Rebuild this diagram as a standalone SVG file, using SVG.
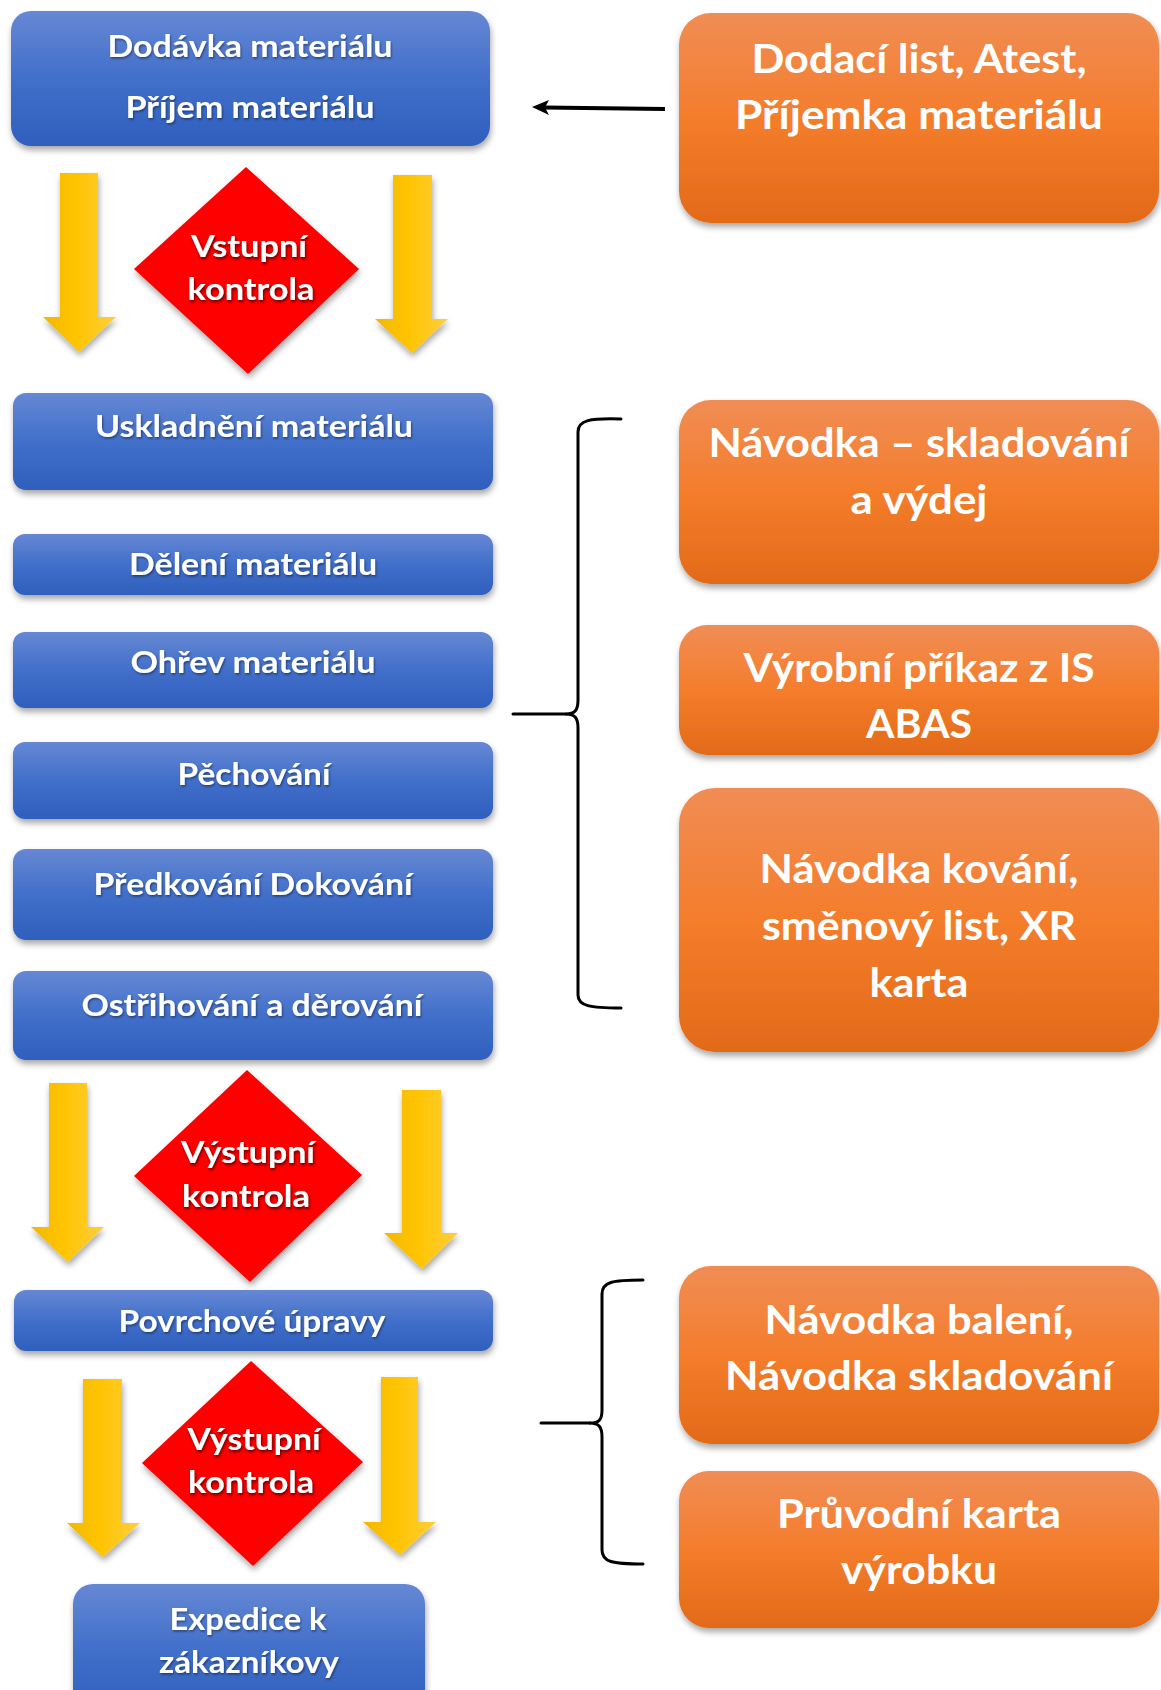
<svg xmlns="http://www.w3.org/2000/svg" width="1161" height="1690" viewBox="0 0 1161 1690">
  <defs>
    <linearGradient id="gBlue" x1="0" y1="0" x2="0" y2="1">
      <stop offset="0" stop-color="#6688D4"/>
      <stop offset="0.5" stop-color="#416FCA"/>
      <stop offset="1" stop-color="#2F5FBD"/>
    </linearGradient>
    <linearGradient id="gOrange" x1="0" y1="0" x2="0" y2="1">
      <stop offset="0" stop-color="#F08D55"/>
      <stop offset="0.5" stop-color="#F47D2C"/>
      <stop offset="1" stop-color="#E26A18"/>
    </linearGradient>
    <linearGradient id="gYellow" x1="0" y1="0" x2="1" y2="0">
      <stop offset="0" stop-color="#F2B800"/>
      <stop offset="0.45" stop-color="#FFC400"/>
      <stop offset="1" stop-color="#FFCE3C"/>
    </linearGradient>
    <filter id="boxShadow" x="-10%" y="-20%" width="120%" height="150%">
      <feDropShadow dx="1" dy="4" stdDeviation="3" flood-color="#000" flood-opacity="0.35"/>
    </filter>
    <filter id="txtShadow" x="-10%" y="-30%" width="120%" height="160%">
      <feDropShadow dx="1" dy="1.5" stdDeviation="1" flood-color="#000" flood-opacity="0.45"/>
    </filter>
    <filter id="redTxtShadow" x="-10%" y="-30%" width="120%" height="160%">
      <feDropShadow dx="1" dy="2" stdDeviation="1.6" flood-color="#400" flood-opacity="0.85"/>
    </filter>
  </defs>
  <style>
    .blue { fill: url(#gBlue); filter: url(#boxShadow); }
    .orange { fill: url(#gOrange); filter: url(#boxShadow); }
    .diamond { fill: #FF0000; filter: url(#boxShadow); }
    .yarrow { fill: url(#gYellow); filter: url(#boxShadow); }
    .bt { font-family: Lato, "Open Sans", "Liberation Sans", sans-serif; font-weight: bold; font-size: 30px; fill: #fff; text-anchor: middle; filter: url(#txtShadow); }
    .dt { font-family: Lato, "Open Sans", "Liberation Sans", sans-serif; font-weight: bold; font-size: 31px; fill: #fff; text-anchor: middle; filter: url(#redTxtShadow); }
    .ot { font-family: Lato, "Open Sans", "Liberation Sans", sans-serif; font-weight: bold; font-size: 40px; fill: #fff; text-anchor: middle; }
    .brace { fill: none; stroke: #000; stroke-width: 3; stroke-linecap: round; stroke-linejoin: round; }
  </style>

  <rect width="1161" height="1690" fill="#fff"/>

  <!-- connectors: block arrows, braces, pointer arrow -->
  <g id="connectors">
    <path class="yarrow" d="M60,173 L98,173 L98,317 L116,317 L79,352 L43,317 L60,317 Z"/>
    <path class="yarrow" d="M393,175 L432,175 L432,319 L448,319 L412,353 L375,319 L393,319 Z"/>
    <path class="yarrow" d="M49,1083 L87,1083 L87,1227 L104,1227 L68,1262 L31,1227 L49,1227 Z"/>
    <path class="yarrow" d="M402,1090 L441,1090 L441,1233 L458,1233 L422,1269 L384,1233 L402,1233 Z"/>
    <path class="yarrow" d="M83,1379 L122,1379 L122,1523 L140,1523 L103,1557 L67,1523 L83,1523 Z"/>
    <path class="yarrow" d="M381,1377 L418,1377 L418,1522 L436,1522 L400,1555 L363,1522 L381,1522 Z"/>

    <g id="pointer-arrow">
      <line x1="665" y1="109" x2="544" y2="107.5" stroke="#000" stroke-width="4"/>
      <path d="M532,107 L549,100 L545,107.5 L549,115 Z" fill="#000"/>
    </g>

    <path class="brace" d="M621,419 C590,418 578,420 578,432 L578,700 C578,710 575,714 566,714 C575,714 578,718 578,728 L578,995 C578,1006 590,1008 621,1008"/>
    <line class="brace" x1="513" y1="714" x2="566" y2="714"/>

    <path class="brace" d="M643,1280 C612,1280 602,1282 602,1294 L602,1410 C602,1420 599,1423 590,1423 C599,1423 602,1427 602,1437 L602,1550 C602,1562 612,1564 643,1564"/>
    <line class="brace" x1="541" y1="1423" x2="590" y2="1423"/>
  </g>

  <!-- process steps -->
  <g id="step-dodavka">
    <rect class="blue" x="11" y="11" width="479" height="135" rx="20"/>
    <text class="bt" x="250" y="57" textLength="285" lengthAdjust="spacingAndGlyphs">Dodávka materiálu</text>
    <text class="bt" x="250" y="118" textLength="249" lengthAdjust="spacingAndGlyphs">Příjem materiálu</text>
  </g>

  <g id="check-vstupni">
    <polygon class="diamond" points="246,167 359,269 248,374 134,269"/>
    <text class="dt" x="249" y="257" textLength="116" lengthAdjust="spacingAndGlyphs">Vstupní</text>
    <text class="dt" x="251" y="300" textLength="127" lengthAdjust="spacingAndGlyphs">kontrola</text>
  </g>

  <g id="step-uskladneni">
    <rect class="blue" x="13" y="393" width="480" height="97" rx="13"/>
    <text class="bt" x="254" y="437" textLength="318" lengthAdjust="spacingAndGlyphs">Uskladnění materiálu</text>
  </g>

  <g id="step-deleni">
    <rect class="blue" x="13" y="534" width="480" height="61" rx="12"/>
    <text class="bt" x="253" y="575" textLength="248" lengthAdjust="spacingAndGlyphs">Dělení materiálu</text>
  </g>

  <g id="step-ohrev">
    <rect class="blue" x="13" y="632" width="480" height="76" rx="12"/>
    <text class="bt" x="253" y="673" textLength="245" lengthAdjust="spacingAndGlyphs">Ohřev materiálu</text>
  </g>

  <g id="step-pechovani">
    <rect class="blue" x="13" y="742" width="480" height="77" rx="12"/>
    <text class="bt" x="254" y="785" textLength="153" lengthAdjust="spacingAndGlyphs">Pěchování</text>
  </g>

  <g id="step-predkovani">
    <rect class="blue" x="13" y="849" width="480" height="91" rx="13"/>
    <text class="bt" x="253" y="895" textLength="319" lengthAdjust="spacingAndGlyphs">Předkování Dokování</text>
  </g>

  <g id="step-ostrihovani">
    <rect class="blue" x="13" y="971" width="480" height="89" rx="13"/>
    <text class="bt" x="252" y="1016" textLength="341" lengthAdjust="spacingAndGlyphs">Ostřihování a děrování</text>
  </g>

  <g id="check-vystupni-1">
    <polygon class="diamond" points="247,1070 362,1175 250,1282 134,1176"/>
    <text class="dt" x="248" y="1163" textLength="134" lengthAdjust="spacingAndGlyphs">Výstupní</text>
    <text class="dt" x="246" y="1207" textLength="128" lengthAdjust="spacingAndGlyphs">kontrola</text>
  </g>

  <g id="step-povrchove">
    <rect class="blue" x="14" y="1290" width="479" height="61" rx="12"/>
    <text class="bt" x="252" y="1332" textLength="267" lengthAdjust="spacingAndGlyphs">Povrchové úpravy</text>
  </g>

  <g id="check-vystupni-2">
    <polygon class="diamond" points="251,1361 363,1462 253,1566 142,1463"/>
    <text class="dt" x="254" y="1450" textLength="133" lengthAdjust="spacingAndGlyphs">Výstupní</text>
    <text class="dt" x="251" y="1493" textLength="126" lengthAdjust="spacingAndGlyphs">kontrola</text>
  </g>

  <g id="step-expedice">
    <rect class="blue" x="73" y="1584" width="352" height="130" rx="20"/>
    <text class="bt" x="248" y="1630" textLength="157" lengthAdjust="spacingAndGlyphs">Expedice k</text>
    <text class="bt" x="249" y="1673" textLength="180" lengthAdjust="spacingAndGlyphs">zákazníkovy</text>
  </g>

  <!-- documents -->
  <g id="doc-dodaci">
    <rect class="orange" x="679" y="13" width="480" height="210" rx="32"/>
    <text class="ot" x="919" y="73" textLength="335" lengthAdjust="spacingAndGlyphs">Dodací list, Atest,</text>
    <text class="ot" x="919" y="129" textLength="368" lengthAdjust="spacingAndGlyphs">Příjemka materiálu</text>
  </g>

  <g id="doc-navodka-skladovani">
    <rect class="orange" x="679" y="400" width="480" height="184" rx="32"/>
    <text class="ot" x="919" y="457" textLength="421" lengthAdjust="spacingAndGlyphs">Návodka – skladování</text>
    <text class="ot" x="919" y="514" textLength="137" lengthAdjust="spacingAndGlyphs">a výdej</text>
  </g>

  <g id="doc-vyrobni-prikaz">
    <rect class="orange" x="679" y="625" width="480" height="130" rx="28"/>
    <text class="ot" x="919" y="682" textLength="351" lengthAdjust="spacingAndGlyphs">Výrobní příkaz z IS</text>
    <text class="ot" x="919" y="738" textLength="106" lengthAdjust="spacingAndGlyphs">ABAS</text>
  </g>

  <g id="doc-navodka-kovani">
    <rect class="orange" x="679" y="788" width="480" height="264" rx="36"/>
    <text class="ot" x="919" y="883" textLength="319" lengthAdjust="spacingAndGlyphs">Návodka kování,</text>
    <text class="ot" x="919" y="940" textLength="314" lengthAdjust="spacingAndGlyphs">směnový list, XR</text>
    <text class="ot" x="919" y="997" textLength="99" lengthAdjust="spacingAndGlyphs">karta</text>
  </g>

  <g id="doc-navodka-baleni">
    <rect class="orange" x="679" y="1266" width="480" height="178" rx="32"/>
    <text class="ot" x="919" y="1334" textLength="309" lengthAdjust="spacingAndGlyphs">Návodka balení,</text>
    <text class="ot" x="919" y="1390" textLength="388" lengthAdjust="spacingAndGlyphs">Návodka skladování</text>
  </g>

  <g id="doc-pruvodni-karta">
    <rect class="orange" x="679" y="1471" width="480" height="157" rx="30"/>
    <text class="ot" x="919" y="1528" textLength="284" lengthAdjust="spacingAndGlyphs">Průvodní karta</text>
    <text class="ot" x="919" y="1584" textLength="156" lengthAdjust="spacingAndGlyphs">výrobku</text>
  </g>
</svg>
